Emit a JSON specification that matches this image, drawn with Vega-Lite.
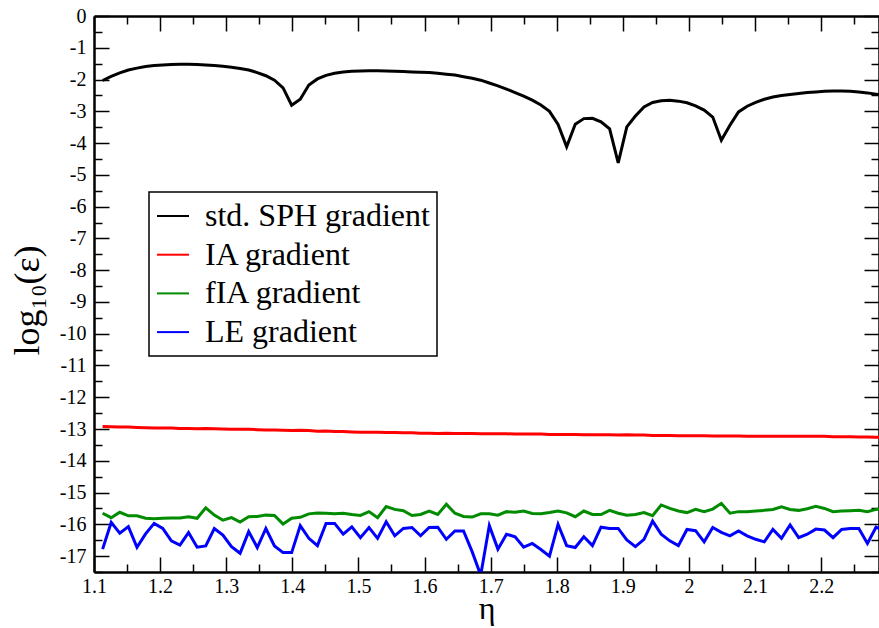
{
  "$schema": "https://vega.github.io/schema/vega-lite/v6.json",
  "width": 785,
  "height": 556,
  "autosize": "none",
  "padding": {"left": 94, "top": 16, "right": 0, "bottom": 56},
  "background": "white",
  "config": {
    "view": {"stroke": null},
    "font": "Times New Roman, Liberation Serif, serif",
    "legend": {"strokeWidth": 1.5},
    "axis": {"grid": false, "tickColor": "black", "tickWidth": 1.5, "domainColor": "black", "domainWidth": 2.5, "labelColor": "black", "labelFont": "Times New Roman, Liberation Serif, serif", "labelFontSize": 20, "titleColor": "black", "titleFont": "Times New Roman, Liberation Serif, serif", "titleFontWeight": "normal", "labelFlush": false, "labelOverlap": false}
  },
  "data": {"values": [
    {"eta":1.113,"std":-2.03,"IA":-12.92,"fIA":-15.65,"LE":-16.78},
    {"eta":1.126,"std":-1.90,"IA":-12.93,"fIA":-15.79,"LE":-15.94},
    {"eta":1.139,"std":-1.79,"IA":-12.94,"fIA":-15.62,"LE":-16.28},
    {"eta":1.152,"std":-1.70,"IA":-12.94,"fIA":-15.73,"LE":-16.07},
    {"eta":1.165,"std":-1.64,"IA":-12.95,"fIA":-15.73,"LE":-16.72},
    {"eta":1.178,"std":-1.59,"IA":-12.96,"fIA":-15.81,"LE":-16.30},
    {"eta":1.191,"std":-1.56,"IA":-12.97,"fIA":-15.82,"LE":-15.97},
    {"eta":1.204,"std":-1.54,"IA":-12.97,"fIA":-15.81,"LE":-16.13},
    {"eta":1.217,"std":-1.53,"IA":-12.97,"fIA":-15.80,"LE":-16.52},
    {"eta":1.230,"std":-1.52,"IA":-12.98,"fIA":-15.80,"LE":-16.65},
    {"eta":1.243,"std":-1.52,"IA":-12.98,"fIA":-15.76,"LE":-16.26},
    {"eta":1.256,"std":-1.53,"IA":-12.99,"fIA":-15.81,"LE":-16.72},
    {"eta":1.269,"std":-1.54,"IA":-12.98,"fIA":-15.48,"LE":-16.68},
    {"eta":1.282,"std":-1.56,"IA":-12.99,"fIA":-15.71,"LE":-16.13},
    {"eta":1.295,"std":-1.58,"IA":-13.00,"fIA":-15.87,"LE":-16.34},
    {"eta":1.308,"std":-1.61,"IA":-13.01,"fIA":-15.79,"LE":-16.70},
    {"eta":1.321,"std":-1.65,"IA":-13.01,"fIA":-15.93,"LE":-16.91},
    {"eta":1.334,"std":-1.70,"IA":-13.01,"fIA":-15.76,"LE":-16.23},
    {"eta":1.347,"std":-1.78,"IA":-13.02,"fIA":-15.75,"LE":-16.73},
    {"eta":1.360,"std":-1.88,"IA":-13.03,"fIA":-15.71,"LE":-16.13},
    {"eta":1.373,"std":-2.02,"IA":-13.03,"fIA":-15.72,"LE":-16.68},
    {"eta":1.386,"std":-2.26,"IA":-13.04,"fIA":-15.99,"LE":-16.89},
    {"eta":1.399,"std":-2.81,"IA":-13.05,"fIA":-15.81,"LE":-16.89},
    {"eta":1.412,"std":-2.62,"IA":-13.04,"fIA":-15.78,"LE":-16.04},
    {"eta":1.425,"std":-2.17,"IA":-13.05,"fIA":-15.67,"LE":-16.44},
    {"eta":1.438,"std":-1.98,"IA":-13.07,"fIA":-15.64,"LE":-16.67},
    {"eta":1.451,"std":-1.87,"IA":-13.06,"fIA":-15.65,"LE":-15.97},
    {"eta":1.464,"std":-1.80,"IA":-13.08,"fIA":-15.67,"LE":-15.97},
    {"eta":1.477,"std":-1.76,"IA":-13.08,"fIA":-15.65,"LE":-16.31},
    {"eta":1.490,"std":-1.74,"IA":-13.09,"fIA":-15.69,"LE":-16.08},
    {"eta":1.503,"std":-1.73,"IA":-13.10,"fIA":-15.72,"LE":-16.42},
    {"eta":1.516,"std":-1.72,"IA":-13.10,"fIA":-15.60,"LE":-16.10},
    {"eta":1.529,"std":-1.72,"IA":-13.10,"fIA":-15.79,"LE":-16.44},
    {"eta":1.542,"std":-1.73,"IA":-13.11,"fIA":-15.44,"LE":-15.92},
    {"eta":1.555,"std":-1.74,"IA":-13.11,"fIA":-15.53,"LE":-16.36},
    {"eta":1.568,"std":-1.75,"IA":-13.12,"fIA":-15.57,"LE":-16.13},
    {"eta":1.581,"std":-1.76,"IA":-13.12,"fIA":-15.72,"LE":-16.10},
    {"eta":1.594,"std":-1.77,"IA":-13.13,"fIA":-15.69,"LE":-16.36},
    {"eta":1.607,"std":-1.78,"IA":-13.13,"fIA":-15.58,"LE":-16.10},
    {"eta":1.620,"std":-1.80,"IA":-13.14,"fIA":-15.69,"LE":-16.09},
    {"eta":1.633,"std":-1.83,"IA":-13.13,"fIA":-15.37,"LE":-16.47},
    {"eta":1.646,"std":-1.86,"IA":-13.14,"fIA":-15.65,"LE":-16.21},
    {"eta":1.659,"std":-1.91,"IA":-13.14,"fIA":-15.75,"LE":-16.21},
    {"eta":1.672,"std":-1.96,"IA":-13.14,"fIA":-15.77,"LE":-16.86},
    {"eta":1.685,"std":-2.02,"IA":-13.15,"fIA":-15.67,"LE":-17.60},
    {"eta":1.698,"std":-2.11,"IA":-13.15,"fIA":-15.67,"LE":-16.04},
    {"eta":1.711,"std":-2.20,"IA":-13.15,"fIA":-15.71,"LE":-16.78},
    {"eta":1.724,"std":-2.30,"IA":-13.15,"fIA":-15.60,"LE":-16.31},
    {"eta":1.737,"std":-2.41,"IA":-13.16,"fIA":-15.62,"LE":-16.39},
    {"eta":1.750,"std":-2.52,"IA":-13.16,"fIA":-15.58,"LE":-16.72},
    {"eta":1.763,"std":-2.65,"IA":-13.16,"fIA":-15.66,"LE":-16.60},
    {"eta":1.776,"std":-2.80,"IA":-13.16,"fIA":-15.67,"LE":-16.79},
    {"eta":1.789,"std":-3.00,"IA":-13.17,"fIA":-15.63,"LE":-17.00},
    {"eta":1.802,"std":-3.41,"IA":-13.17,"fIA":-15.58,"LE":-16.00},
    {"eta":1.815,"std":-4.12,"IA":-13.17,"fIA":-15.64,"LE":-16.67},
    {"eta":1.828,"std":-3.41,"IA":-13.17,"fIA":-15.76,"LE":-16.73},
    {"eta":1.841,"std":-3.23,"IA":-13.18,"fIA":-15.58,"LE":-16.39},
    {"eta":1.854,"std":-3.22,"IA":-13.18,"fIA":-15.69,"LE":-16.67},
    {"eta":1.867,"std":-3.33,"IA":-13.18,"fIA":-15.69,"LE":-16.09},
    {"eta":1.880,"std":-3.55,"IA":-13.18,"fIA":-15.56,"LE":-16.13},
    {"eta":1.893,"std":-4.62,"IA":-13.19,"fIA":-15.65,"LE":-16.13},
    {"eta":1.906,"std":-3.49,"IA":-13.18,"fIA":-15.71,"LE":-16.49},
    {"eta":1.919,"std":-3.15,"IA":-13.19,"fIA":-15.69,"LE":-16.70},
    {"eta":1.932,"std":-2.86,"IA":-13.19,"fIA":-15.63,"LE":-16.47},
    {"eta":1.945,"std":-2.72,"IA":-13.20,"fIA":-15.73,"LE":-15.90},
    {"eta":1.958,"std":-2.67,"IA":-13.20,"fIA":-15.39,"LE":-16.31},
    {"eta":1.971,"std":-2.65,"IA":-13.20,"fIA":-15.50,"LE":-16.52},
    {"eta":1.984,"std":-2.68,"IA":-13.21,"fIA":-15.58,"LE":-16.67},
    {"eta":1.997,"std":-2.73,"IA":-13.21,"fIA":-15.63,"LE":-16.16},
    {"eta":2.010,"std":-2.83,"IA":-13.21,"fIA":-15.53,"LE":-16.20},
    {"eta":2.023,"std":-2.96,"IA":-13.21,"fIA":-15.60,"LE":-16.55},
    {"eta":2.036,"std":-3.18,"IA":-13.22,"fIA":-15.52,"LE":-16.10},
    {"eta":2.049,"std":-3.91,"IA":-13.22,"fIA":-15.34,"LE":-16.25},
    {"eta":2.062,"std":-3.44,"IA":-13.22,"fIA":-15.65,"LE":-16.36},
    {"eta":2.075,"std":-3.02,"IA":-13.22,"fIA":-15.60,"LE":-16.21},
    {"eta":2.088,"std":-2.84,"IA":-13.23,"fIA":-15.60,"LE":-16.36},
    {"eta":2.101,"std":-2.72,"IA":-13.23,"fIA":-15.58,"LE":-16.47},
    {"eta":2.114,"std":-2.62,"IA":-13.23,"fIA":-15.56,"LE":-16.55},
    {"eta":2.127,"std":-2.55,"IA":-13.23,"fIA":-15.53,"LE":-16.16},
    {"eta":2.140,"std":-2.50,"IA":-13.23,"fIA":-15.45,"LE":-16.44},
    {"eta":2.153,"std":-2.47,"IA":-13.23,"fIA":-15.53,"LE":-16.02},
    {"eta":2.166,"std":-2.44,"IA":-13.23,"fIA":-15.56,"LE":-16.42},
    {"eta":2.179,"std":-2.41,"IA":-13.23,"fIA":-15.51,"LE":-16.31},
    {"eta":2.192,"std":-2.39,"IA":-13.23,"fIA":-15.43,"LE":-16.15},
    {"eta":2.205,"std":-2.37,"IA":-13.23,"fIA":-15.50,"LE":-16.18},
    {"eta":2.218,"std":-2.36,"IA":-13.24,"fIA":-15.60,"LE":-16.42},
    {"eta":2.231,"std":-2.36,"IA":-13.24,"fIA":-15.58,"LE":-16.16},
    {"eta":2.244,"std":-2.37,"IA":-13.24,"fIA":-15.57,"LE":-16.13},
    {"eta":2.257,"std":-2.39,"IA":-13.25,"fIA":-15.56,"LE":-16.13},
    {"eta":2.270,"std":-2.42,"IA":-13.25,"fIA":-15.60,"LE":-16.60},
    {"eta":2.283,"std":-2.46,"IA":-13.26,"fIA":-15.53,"LE":-16.09},
    {"eta":2.296,"std":-2.50,"IA":-13.26,"fIA":-15.50,"LE":-16.20}
  ]},
  "transform": [{"fold": ["std", "IA", "fIA", "LE"], "as": ["series", "value"]}],
  "layer": [
    {
      "mark": {"type": "line", "strokeWidth": 3, "clip": true},
      "encoding": {
        "x": {"field": "eta", "type": "quantitative", "scale": {"domain": [1.1, 2.2875], "nice": false, "zero": false},
          "axis": {"orient": "bottom", "values": [1.1, 1.2, 1.3, 1.4, 1.5, 1.6, 1.7, 1.8, 1.9, 2.0, 2.1, 2.2], "tickSize": -15, "labelPadding": 19, "labelExpr": "format(datum.value, '.2~f')", "title": "η", "titleFontSize": 32, "titleBaseline": "alphabetic", "titleY": 46}},
        "y": {"field": "value", "type": "quantitative", "scale": {"domain": [-17.5, 0], "nice": false, "zero": false},
          "axis": {"orient": "left", "values": [-17, -16, -15, -14, -13, -12, -11, -10, -9, -8, -7, -6, -5, -4, -3, -2, -1, 0], "tickSize": -15, "labelPadding": 23, "labelExpr": "datum.value + ''", "title": "log₁₀(ε)", "titleFontSize": 36, "titleAngle": -90, "titleBaseline": "alphabetic", "titleAlign": "center", "titleX": -56, "titleY": 284}},
        "color": {"field": "series", "type": "nominal",
          "scale": {"domain": ["std", "IA", "fIA", "LE"], "range": ["#000000", "#ff0000", "#008b00", "#0000ff"]},
          "legend": {"orient": "none", "legendX": 55, "legendY": 176, "title": null,
            "labelExpr": "datum.label == 'std' ? 'std. SPH gradient' : datum.label + ' gradient'",
            "labelFont": "Times New Roman, Liberation Serif, serif", "labelFontSize": 32, "labelLimit": 500, "labelColor": "black", "labelOffset": 15,
            "symbolType": "stroke", "symbolSize": 1024, "symbolStrokeWidth": 2, "rowPadding": 5.7,
            "strokeColor": "black", "fillColor": "white", "padding": 7}}
      }
    },
    {
      "mark": {"type": "point", "opacity": 0},
      "encoding": {
        "x": {"field": "eta", "type": "quantitative", "scale": {"domain": [1.1, 2.2875], "nice": false, "zero": false},
          "axis": {"orient": "bottom", "values": [1.15, 1.25, 1.35, 1.45, 1.55, 1.65, 1.75, 1.85, 1.95, 2.05, 2.15, 2.25], "tickSize": -8, "labels": false, "domain": false, "title": null}},
        "y": {"field": "value", "type": "quantitative", "scale": {"domain": [-17.5, 0], "nice": false, "zero": false},
          "axis": {"orient": "left", "values": [-17.5, -16.5, -15.5, -14.5, -13.5, -12.5, -11.5, -10.5, -9.5, -8.5, -7.5, -6.5, -5.5, -4.5, -3.5, -2.5, -1.5, -0.5], "tickSize": -8, "labels": false, "domain": false, "title": null}}
      }
    },
    {
      "mark": {"type": "point", "opacity": 0},
      "encoding": {
        "x": {"field": "eta", "type": "quantitative", "scale": {"domain": [1.1, 2.2875], "nice": false, "zero": false},
          "axis": {"orient": "top", "values": [1.1, 1.2, 1.3, 1.4, 1.5, 1.6, 1.7, 1.8, 1.9, 2.0, 2.1, 2.2], "tickSize": -15, "labels": false, "title": null}},
        "y": {"field": "value", "type": "quantitative", "scale": {"domain": [-17.5, 0], "nice": false, "zero": false},
          "axis": {"orient": "right", "values": [-17, -16, -15, -14, -13, -12, -11, -10, -9, -8, -7, -6, -5, -4, -3, -2, -1, 0], "tickSize": -15, "labels": false, "title": null}}
      }
    },
    {
      "mark": {"type": "point", "opacity": 0},
      "encoding": {
        "x": {"field": "eta", "type": "quantitative", "scale": {"domain": [1.1, 2.2875], "nice": false, "zero": false},
          "axis": {"orient": "top", "values": [1.15, 1.25, 1.35, 1.45, 1.55, 1.65, 1.75, 1.85, 1.95, 2.05, 2.15, 2.25], "tickSize": -8, "labels": false, "domain": false, "title": null}},
        "y": {"field": "value", "type": "quantitative", "scale": {"domain": [-17.5, 0], "nice": false, "zero": false},
          "axis": {"orient": "right", "values": [-17.5, -16.5, -15.5, -14.5, -13.5, -12.5, -11.5, -10.5, -9.5, -8.5, -7.5, -6.5, -5.5, -4.5, -3.5, -2.5, -1.5, -0.5], "tickSize": -8, "labels": false, "domain": false, "title": null}}
      }
    }
  ],
  "resolve": {"axis": {"x": "independent", "y": "independent"}}
}
